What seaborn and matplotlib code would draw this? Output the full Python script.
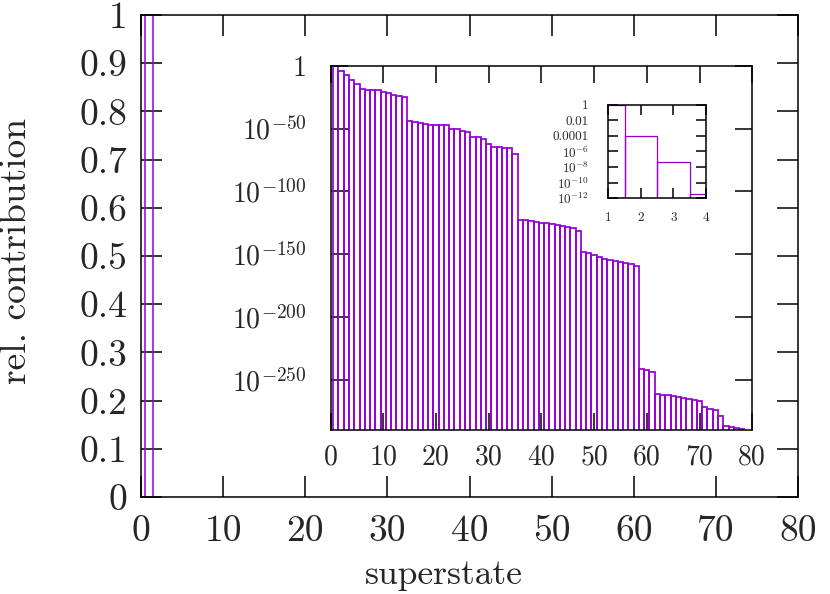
import numpy as np
import matplotlib
matplotlib.use("Agg")
import matplotlib.pyplot as plt
import seaborn as sns

# superstate index and log10 of the relative contribution
superstate = np.arange(1, 79)
log_contrib = [
    0.0, -4.0, -7.3, -11.5, -14.9, -18.9, -19.1, -19.2, -19.4, -20.7,
    -21.5, -23.4, -23.9, -25.0, -43.9, -45.2, -45.7, -46.3, -47.3, -47.3,
    -47.3, -47.6, -50.0, -50.5, -51.6, -52.6, -56.4, -56.6, -58.5, -62.2,
    -64.6, -65.1, -65.4, -65.6, -70.5, -122.9, -123.2, -123.7, -124.5, -125.0,
    -125.6, -126.4, -127.2, -127.7, -128.8, -129.3, -131.4, -148.4, -148.9, -150.3,
    -152.4, -153.5, -154.5, -155.3, -155.9, -156.7, -158.0, -159.6, -241.5, -242.0,
    -244.2, -261.0, -261.8, -262.3, -262.8, -263.9, -264.7, -265.2, -266.0, -266.8,
    -271.9, -273.2, -274.3, -278.5, -287.0, -287.5, -288.3, -288.9,
]
contribution = 10.0 ** np.array(log_contrib)

main_yticks = [0, 0.1, 0.2, 0.3, 0.4, 0.5, 0.6, 0.7, 0.8, 0.9, 1]
main_ylabels = ["0", "0.1", "0.2", "0.3", "0.4", "0.5", "0.6", "0.7", "0.8", "0.9", "1"]
inset_yticks = [1, 1e-50, 1e-100, 1e-150, 1e-200, 1e-250]
inset_ylabels = ["1", "$10^{-50}$", "$10^{-100}$", "$10^{-150}$", "$10^{-200}$", "$10^{-250}$"]
small_yticks = [1, 1e-2, 1e-4, 1e-6, 1e-8, 1e-10, 1e-12]
small_ylabels = ["1", "0.01", "0.0001", "$10^{-6}$", "$10^{-8}$", "$10^{-10}$", "$10^{-12}$"]

purple = "#9400d3"

sns.set_theme(style="ticks")
plt.rcParams["font.family"] = ["cmr10", "DejaVu Serif"]
plt.rcParams["mathtext.fontset"] = "cm"
plt.rcParams["axes.unicode_minus"] = False
plt.rcParams["axes.linewidth"] = 1.1
plt.rcParams["axes.edgecolor"] = "black"

fig = plt.figure(figsize=(8.3, 5.94), dpi=100)


def style_axes(ax, size, length, pad_x, pad_y):
    ax.tick_params(axis="both", which="major", direction="in", top=True, right=True,
                   length=length, width=1.1, color="black", labelsize=size)
    ax.tick_params(axis="x", pad=pad_x)
    ax.tick_params(axis="y", pad=pad_y)
    ax.tick_params(which="minor", left=False, right=False, top=False, bottom=False)
    for s in ax.spines.values():
        s.set_visible(True)
        s.set_color("black")


# main plot
ax = fig.add_axes([0.170, 0.1633, 0.7916, 0.8114])
sns.barplot(x=superstate, y=contribution, native_scale=True, width=1, fill=False,
            color=purple, linewidth=1.1, errorbar=None, ax=ax)
# bars far below one pixel would only paint the bottom spine
for p in ax.patches:
    if p.get_height() < 1e-3:
        p.set_visible(False)
ax.set_xlim(0, 80)
ax.set_ylim(0, 1)
ax.set_xticks(range(0, 81, 10))
ax.set_xticklabels([str(v) for v in range(0, 81, 10)])
ax.set_yticks(main_yticks)
ax.set_yticklabels(main_ylabels)
style_axes(ax, 27, 15, 13, 10)
ax.set_xlabel("superstate", fontsize=25.5)
ax.set_ylabel("rel. contribution", fontsize=27)
ax.xaxis.set_label_coords(0.46, -0.13)
ax.yaxis.set_label_coords(-0.165, 0.51)

# big inset, log scale
ax2 = fig.add_axes([0.3983, 0.2761, 0.508, 0.6133])
ax2.set_facecolor("white")
ax2.set_yscale("log")
sns.barplot(x=superstate, y=contribution, native_scale=True, width=1, fill=False,
            color=purple, linewidth=1.25, errorbar=None, ax=ax2)
ax2.set_yscale("log")
ax2.set_xlim(0, 80)
ax2.set_ylim(1e-290, 1)
ax2.set_xticks(range(0, 81, 10))
ax2.set_xticklabels([str(v) for v in range(0, 81, 10)])
ax2.set_yticks(inset_yticks)
ax2.set_yticklabels(inset_ylabels)
style_axes(ax2, 20, 12, 10, 17)
ax2.set_xlabel("")
ax2.set_ylabel("")

# small inset, first superstates
ax3 = fig.add_axes([0.7329, 0.6662, 0.1177, 0.1576])
ax3.set_facecolor("white")
ax3.set_yscale("log")
sns.barplot(x=superstate, y=contribution, native_scale=True, width=1, fill=False,
            color=purple, linewidth=0.9, errorbar=None, ax=ax3)
ax3.set_yscale("log")
ax3.set_xlim(1, 4)
ax3.set_ylim(1e-12, 1)
ax3.set_xticks([1, 2, 3, 4])
ax3.set_xticklabels(["1", "2", "3", "4"])
ax3.set_yticks(small_yticks)
ax3.set_yticklabels(small_ylabels)
style_axes(ax3, 9.5, 7, 10, 14)
ax3.set_xlabel("")
ax3.set_ylabel("")

fig.savefig("out.png", dpi=100)
